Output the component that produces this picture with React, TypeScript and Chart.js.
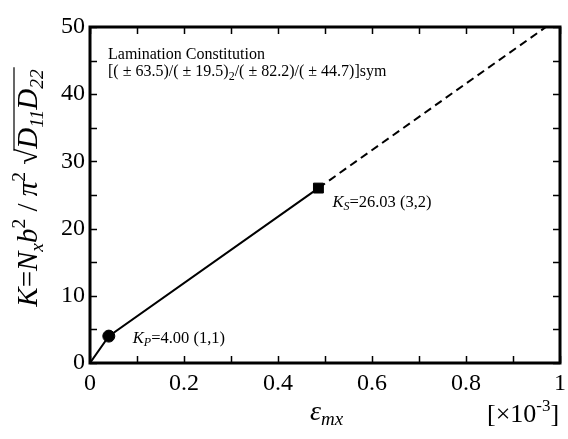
import React, { useEffect, useRef } from "react";
import { Chart, registerables } from "chart.js";

Chart.register(...registerables);

// Data
const solidStrain = [0, 0.04, 0.486];
const solidK = [0, 4.0, 26.03];
const dashedStrain = [0.486, 0.97];
const dashedK = [26.03, 50];
const pointP = { x: 0.04, y: 4.0, label: "=4.00 (1,1)", sub: "P" };
const pointS = { x: 0.486, y: 26.03, label: "=26.03 (3,2)", sub: "S" };
const xTicks = [0, 0.2, 0.4, 0.6, 0.8, 1];
const xTickLabels = ["0", "0.2", "0.4", "0.6", "0.8", "1"];
const yTicks = [0, 10, 20, 30, 40, 50];
const noteLines = ["Lamination Constitution"];

const SERIF = "'Liberation Serif', 'Times New Roman', serif";

type Seg = { t: string; italic?: boolean; size: number; dy?: number };

function drawRich(ctx: CanvasRenderingContext2D, segs: Seg[], x: number, y: number, measureOnly = false): number {
  let cx = x;
  for (const s of segs) {
    ctx.font = `${s.italic ? "italic " : ""}${s.size}px ${SERIF}`;
    if (!measureOnly) ctx.fillText(s.t, cx, y + (s.dy || 0));
    cx += ctx.measureText(s.t).width;
  }
  return cx - x;
}

const decoPlugin = {
  id: "deco",
  afterDraw(chart: any) {
    const { ctx, chartArea } = chart;
    const xs = chart.scales.x;
    const ys = chart.scales.y;
    const { left, right, top, bottom } = chartArea;
    ctx.save();
    ctx.fillStyle = "#000";
    ctx.strokeStyle = "#000";
    // ticks
    ctx.lineWidth = 1.5;
    const tl = 7;
    for (let v = 0; v <= 1.0001; v += 0.1) {
      const px = Math.round(xs.getPixelForValue(v)) + 0.5;
      ctx.beginPath();
      ctx.moveTo(px, bottom);
      ctx.lineTo(px, bottom - tl);
      ctx.moveTo(px, top);
      ctx.lineTo(px, top + tl);
      ctx.stroke();
    }
    for (let v = 0; v <= 50.001; v += 5) {
      const py = Math.round(ys.getPixelForValue(v)) + 0.5;
      ctx.beginPath();
      ctx.moveTo(left, py);
      ctx.lineTo(left + tl, py);
      ctx.moveTo(right, py);
      ctx.lineTo(right - tl, py);
      ctx.stroke();
    }
    // frame
    ctx.lineWidth = 3;
    ctx.strokeRect(left, top, right - left, bottom - top);

    // x tick labels
    ctx.font = `24px ${SERIF}`;
    ctx.textAlign = "center";
    ctx.textBaseline = "alphabetic";
    xTicks.forEach((v, i) => {
      ctx.fillText(xTickLabels[i], xs.getPixelForValue(v), bottom + 27);
    });

    ctx.textAlign = "left";
    // note
    drawRich(ctx, [{ t: noteLines[0], size: 16 }], left + 18, top + 32);
    drawRich(
      ctx,
      [
        { t: "[( \u00B1 63.5)/( \u00B1 19.5)", size: 16 },
        { t: "2", size: 12, dy: 4 },
        { t: "/( \u00B1 82.2)/( \u00B1 44.7)]sym", size: 16 },
      ],
      left + 18,
      top + 49
    );
    // point labels
    const lab = (p: any, ox: number, oy: number) => {
      const px = xs.getPixelForValue(p.x);
      const py = ys.getPixelForValue(p.y);
      drawRich(
        ctx,
        [
          { t: "K", italic: true, size: 16.5 },
          { t: p.sub, italic: true, size: 12, dy: 3 },
          { t: p.label, size: 16.5 },
        ],
        px + ox,
        py + oy
      );
    };
    lab(pointP, 24, 7);
    lab(pointS, 14, 19);

    // x title
    drawRich(
      ctx,
      [
        { t: "\u03B5", italic: true, size: 28 },
        { t: "mx", italic: true, size: 19, dy: 5 },
      ],
      310,
      420
    );
    drawRich(
      ctx,
      [
        { t: "[\u00D710", size: 26 },
        { t: "-3", size: 17, dy: -11 },
        { t: "]", size: 26 },
      ],
      487,
      422
    );

    // y title (rotated)
    const fs = 29;
    const ss = 19.5;
    const segs: Seg[] = [
      { t: "K", italic: true, size: fs },
      { t: "=", size: fs },
      { t: "N", italic: true, size: fs },
      { t: "x", italic: true, size: ss, dy: 6 },
      { t: "b", italic: true, size: fs },
      { t: "2", size: ss, dy: -12 },
      { t: " / ", size: fs },
      { t: "\u03C0", italic: true, size: fs },
      { t: "2", size: ss, dy: -12 },
      { t: " \u221A", size: fs },
    ];
    const segs2: Seg[] = [
      { t: "D", italic: true, size: fs },
      { t: "11", italic: true, size: ss, dy: 6 },
      { t: "D", italic: true, size: fs },
      { t: "22", italic: true, size: ss, dy: 6 },
    ];
    const w1 = drawRich(ctx, segs, 0, 0, true);
    const w2 = drawRich(ctx, segs2, 0, 0, true);
    const total = w1 + w2;
    ctx.translate(37, (top + bottom) / 2 - 7);
    ctx.rotate(-Math.PI / 2);
    const sx = -total / 2;
    drawRich(ctx, segs, sx, 0);
    drawRich(ctx, segs2, sx + w1, 0);
    ctx.lineWidth = 1.2;
    ctx.beginPath();
    ctx.moveTo(sx + w1 - 2, -23);
    ctx.lineTo(sx + w1 + w2 + 2, -23);
    ctx.stroke();
    ctx.restore();
  },
};

export default function App() {
  const ref = useRef<HTMLCanvasElement | null>(null);
  useEffect(() => {
    if (!ref.current) return;
    const chart = new Chart(ref.current, {
      type: "scatter",
      data: {
        datasets: [
          {
            data: solidStrain.map((x, i) => ({ x, y: solidK[i] })),
            showLine: true,
            borderColor: "#000",
            borderWidth: 2,
            pointRadius: 0,
          },
          {
            data: dashedStrain.map((x, i) => ({ x, y: dashedK[i] })),
            showLine: true,
            borderColor: "#000",
            borderWidth: 2,
            borderDash: [8, 5],
            pointRadius: 0,
          },
          {
            data: [{ x: pointP.x, y: pointP.y }],
            pointStyle: "circle",
            pointRadius: 6,
            backgroundColor: "#000",
            borderColor: "#000",
          },
          {
            data: [{ x: pointS.x, y: pointS.y }],
            pointStyle: "rect",
            pointRadius: 7,
            backgroundColor: "#000",
            borderColor: "#000",
          },
        ],
      },
      options: {
        animation: false,
        responsive: true,
        maintainAspectRatio: false,
        layout: { padding: { top: 27, right: 1, left: 0, bottom: 0 } },
        plugins: { legend: { display: false }, tooltip: { enabled: false } },
        scales: {
          x: {
            type: "linear",
            min: 0,
            max: 1,
            afterBuildTicks: (s: any) => {
              s.ticks = xTicks.map((v) => ({ value: v }));
            },
            afterFit: (s: any) => {
              s.height = 76;
            },
            ticks: { display: false },
            grid: { display: false, drawTicks: false },
            border: { display: false },
          },
          y: {
            type: "linear",
            min: 0,
            max: 50,
            afterBuildTicks: (s: any) => {
              s.ticks = yTicks.map((v) => ({ value: v }));
            },
            afterFit: (s: any) => {
              s.width = 90;
            },
            ticks: {
              color: "#000",
              font: { family: SERIF, size: 24 },
              padding: 5,
              autoSkip: false,
            },
            grid: { display: false, drawTicks: false },
            border: { display: false },
          },
        },
      },
      plugins: [decoPlugin],
    } as any);
    return () => chart.destroy();
  }, []);
  return (
    <div style={{ position: "absolute", left: 0, top: 0, width: 568, height: 439, background: "#fff" }}>
      <canvas ref={ref} />
    </div>
  );
}
